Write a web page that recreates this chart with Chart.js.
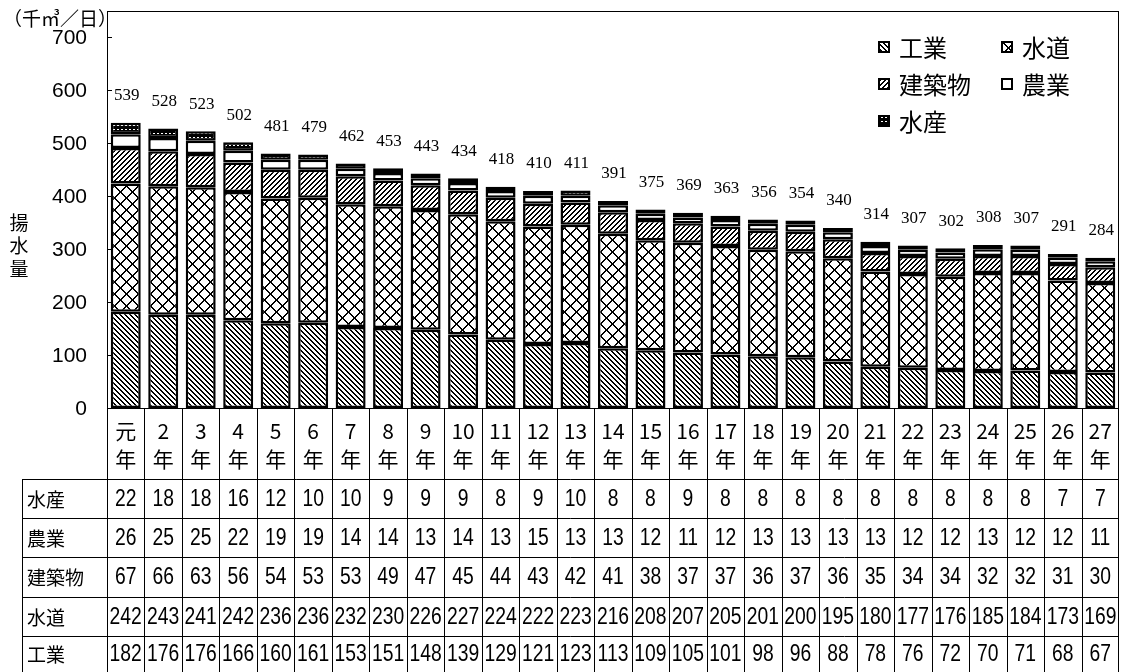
<!DOCTYPE html>
<html>
<head>
<meta charset="utf-8">
<script src="https://cdn.jsdelivr.net/npm/chart.js@4"></script>
<style>
  html, body { margin: 0; padding: 0; background: #fff; }
</style>
</head>
<body>
<canvas id="chart" width="1121" height="672"></canvas>
<script>
const years = ["元", "2", "3", "4", "5", "6", "7", "8", "9", "10", "11", "12", "13", "14",
    "15", "16", "17", "18", "19", "20", "21", "22", "23", "24", "25", "26", "27"];
const kogyo = [182, 176, 176, 166, 160, 161, 153, 151, 148, 139, 129, 121, 123, 113,
    109, 105, 101, 98, 96, 88, 78, 76, 72, 70, 71, 68, 67];
const suido = [242, 243, 241, 242, 236, 236, 232, 230, 226, 227, 224, 222, 223, 216,
    208, 207, 205, 201, 200, 195, 180, 177, 176, 185, 184, 173, 169];
const kenchiku = [67, 66, 63, 56, 54, 53, 53, 49, 47, 45, 44, 43, 42, 41,
    38, 37, 37, 36, 37, 36, 35, 34, 34, 32, 32, 31, 30];
const nogyo = [26, 25, 25, 22, 19, 19, 14, 14, 13, 14, 13, 15, 13, 13,
    12, 11, 12, 13, 13, 13, 13, 12, 12, 13, 12, 12, 11];
const suisan = [22, 18, 18, 16, 12, 10, 10, 9, 9, 9, 8, 9, 10, 8,
    8, 9, 8, 8, 8, 8, 8, 8, 8, 8, 8, 7, 7];
const totals = [539, 528, 523, 502, 481, 479, 462, 453, 443, 434, 418, 410, 411, 391,
    375, 369, 363, 356, 354, 340, 314, 307, 302, 308, 307, 291, 284];
const yTicks = [0, 100, 200, 300, 400, 500, 600, 700];

const patCtx = document.createElement("canvas").getContext("2d");

// small tiles for the black & white hatch fills
function makePattern(size, bg, draw) {
    const c = document.createElement("canvas");
    c.width = size;
    c.height = size;
    const g = c.getContext("2d");
    g.fillStyle = bg;
    g.fillRect(0, 0, size, size);
    g.fillStyle = bg === "#000" ? "#fff" : "#000";
    draw(g, size);
    return patCtx.createPattern(c, "repeat");
}

const patKogyo = makePattern(5, "#fff", (g, s) => {
    for (let i = 0; i < s; i++) {
        g.fillRect(i, i, 1, 1);
        g.fillRect((i + 1) % s, i, 1, 1);
    }
});
const patSuido = makePattern(12, "#fff", (g, s) => {
    for (let i = 0; i < s; i++) {
        g.fillRect(i, i, 1, 1);
        g.fillRect((i + 1) % s, i, 1, 1);
        g.fillRect(s - 1 - i, i, 1, 1);
        g.fillRect((s - i) % s, i, 1, 1);
    }
});
const patKenchiku = makePattern(5, "#fff", (g, s) => {
    for (let i = 0; i < s; i++) {
        g.fillRect(s - 1 - i, i, 1, 1);
        g.fillRect((s - i) % s, i, 1, 1);
    }
});
const patSuisan = makePattern(4, "#000", (g, s) => {
    g.fillRect(1, 1, 2, 1);
});

const series = [
    { label: "工業", data: kogyo, fill: patKogyo },
    { label: "水道", data: suido, fill: patSuido },
    { label: "建築物", data: kenchiku, fill: patKenchiku },
    { label: "農業", data: nogyo, fill: "#fff" },
    { label: "水産", data: suisan, fill: patSuisan }
];

const tableRows = [
    { label: "水産", data: suisan },
    { label: "農業", data: nogyo },
    { label: "建築物", data: kenchiku },
    { label: "水道", data: suido },
    { label: "工業", data: kogyo }
];

const legendItems = [
    { label: "工業", fill: patKogyo, x: 884, y: 47 },
    { label: "水道", fill: patSuido, x: 1007, y: 47 },
    { label: "建築物", fill: patKenchiku, x: 884, y: 84 },
    { label: "農業", fill: "#fff", x: 1007, y: 84 },
    { label: "水産", fill: patSuisan, x: 884, y: 121 }
];

const JP = "'Noto Sans CJK JP', sans-serif";

const decorations = {
    id: "decorations",
    afterDraw(chart) {
        const ctx = chart.ctx;
        const area = chart.chartArea;
        const xs = chart.scales.x;
        const ys = chart.scales.y;
        const colW = (xs.right - xs.left) / years.length;
        ctx.save();

        // plot frame
        ctx.strokeStyle = "#000";
        ctx.lineWidth = 1;
        ctx.strokeRect(Math.round(area.left) + 0.5, Math.round(area.top) + 0.5,
            Math.round(area.right - area.left) - 1, Math.round(area.bottom - area.top));

        // y ticks (inward) and labels
        ctx.font = "21px 'Liberation Sans', Arial, sans-serif";
        ctx.fillStyle = "#000";
        ctx.textAlign = "right";
        ctx.textBaseline = "middle";
        yTicks.forEach(v => {
            const y = Math.round(ys.getPixelForValue(v)) + 0.5;
            ctx.beginPath();
            ctx.moveTo(area.left, y);
            ctx.lineTo(area.left + 5, y);
            ctx.stroke();
            ctx.fillText(String(v), 87, ys.getPixelForValue(v) + 1);
        });

        // unit and axis title
        ctx.textAlign = "left";
        ctx.font = "19px " + JP;
        ctx.fillText("（千㎥／日）", 3, 19);
        ctx.textAlign = "center";
        ctx.font = "19px " + JP;
        ["揚", "水", "量"].forEach((ch, i) => ctx.fillText(ch, 19, 223 + i * 23));

        // totals above bars
        ctx.font = "17px 'Liberation Serif', 'Times New Roman', serif";
        totals.forEach((t, i) => {
            ctx.fillText(String(t), xs.getPixelForValue(i) + 1, ys.getPixelForValue(t) - 27);
        });

        // table grid
        const rowTops = [479, 518, 557, 597, 636, 675];
        const tableLeft = 22;
        const right = Math.round(xs.right) - 0.5;
        ctx.beginPath();
        for (let i = 0; i <= years.length; i++) {
            const x = Math.round(xs.left + i * colW) + 0.5;
            ctx.moveTo(Math.min(x, right), area.bottom);
            ctx.lineTo(Math.min(x, right), 672);
        }
        rowTops.slice(0, 5).forEach(y => {
            ctx.moveTo(tableLeft, y + 0.5);
            ctx.lineTo(right, y + 0.5);
        });
        ctx.moveTo(tableLeft + 0.5, rowTops[0]);
        ctx.lineTo(tableLeft + 0.5, 672);
        ctx.stroke();

        // category labels
        ctx.font = "21px " + JP;
        years.forEach((yr, i) => {
            const x = xs.getPixelForValue(i);
            ctx.fillText(yr, x, 431);
            ctx.fillText("年", x, 459);
        });

        // table rows (numbers drawn horizontally condensed)
        tableRows.forEach((row, r) => {
            const yc = (rowTops[r] + Math.min(rowTops[r + 1], 672)) / 2 + 1;
            ctx.textAlign = "left";
            ctx.font = "19px " + JP;
            ctx.fillText(row.label, 27, yc);
            ctx.textAlign = "center";
            ctx.font = "23px 'Liberation Sans', Arial, sans-serif";
            row.data.forEach((v, i) => {
                ctx.save();
                ctx.translate(xs.getPixelForValue(i), yc);
                ctx.scale(0.84, 1);
                ctx.fillText(String(v), 0, 0);
                ctx.restore();
            });
        });

        // legend
        legendItems.forEach(item => {
            ctx.fillStyle = item.fill;
            ctx.fillRect(item.x - 5, item.y - 5, 10, 10);
            ctx.lineWidth = 2;
            ctx.strokeRect(item.x - 5, item.y - 5, 10, 10);
            ctx.fillStyle = "#000";
            ctx.textAlign = "left";
            ctx.font = "24px " + JP;
            ctx.fillText(item.label, item.x + 15, item.y + 1);
        });

        ctx.restore();
    }
};

new Chart(document.getElementById("chart"), {
    type: "bar",
    data: {
        labels: years,
        datasets: series.map(s => ({
            label: s.label,
            data: s.data,
            backgroundColor: s.fill,
            borderColor: "#000",
            borderWidth: 2.5,
            borderSkipped: false,
            categoryPercentage: 0.8,
            barPercentage: 1.0
        }))
    },
    options: {
        responsive: false,
        animation: false,
        devicePixelRatio: 1,
        layout: { padding: { left: 107, top: 11, right: 2, bottom: 264 } },
        plugins: {
            legend: { display: false },
            tooltip: { enabled: false }
        },
        scales: {
            x: { stacked: true, display: false },
            y: { stacked: true, display: false, min: 0, max: 750 }
        }
    },
    plugins: [decorations]
});
</script>
</body>
</html>
